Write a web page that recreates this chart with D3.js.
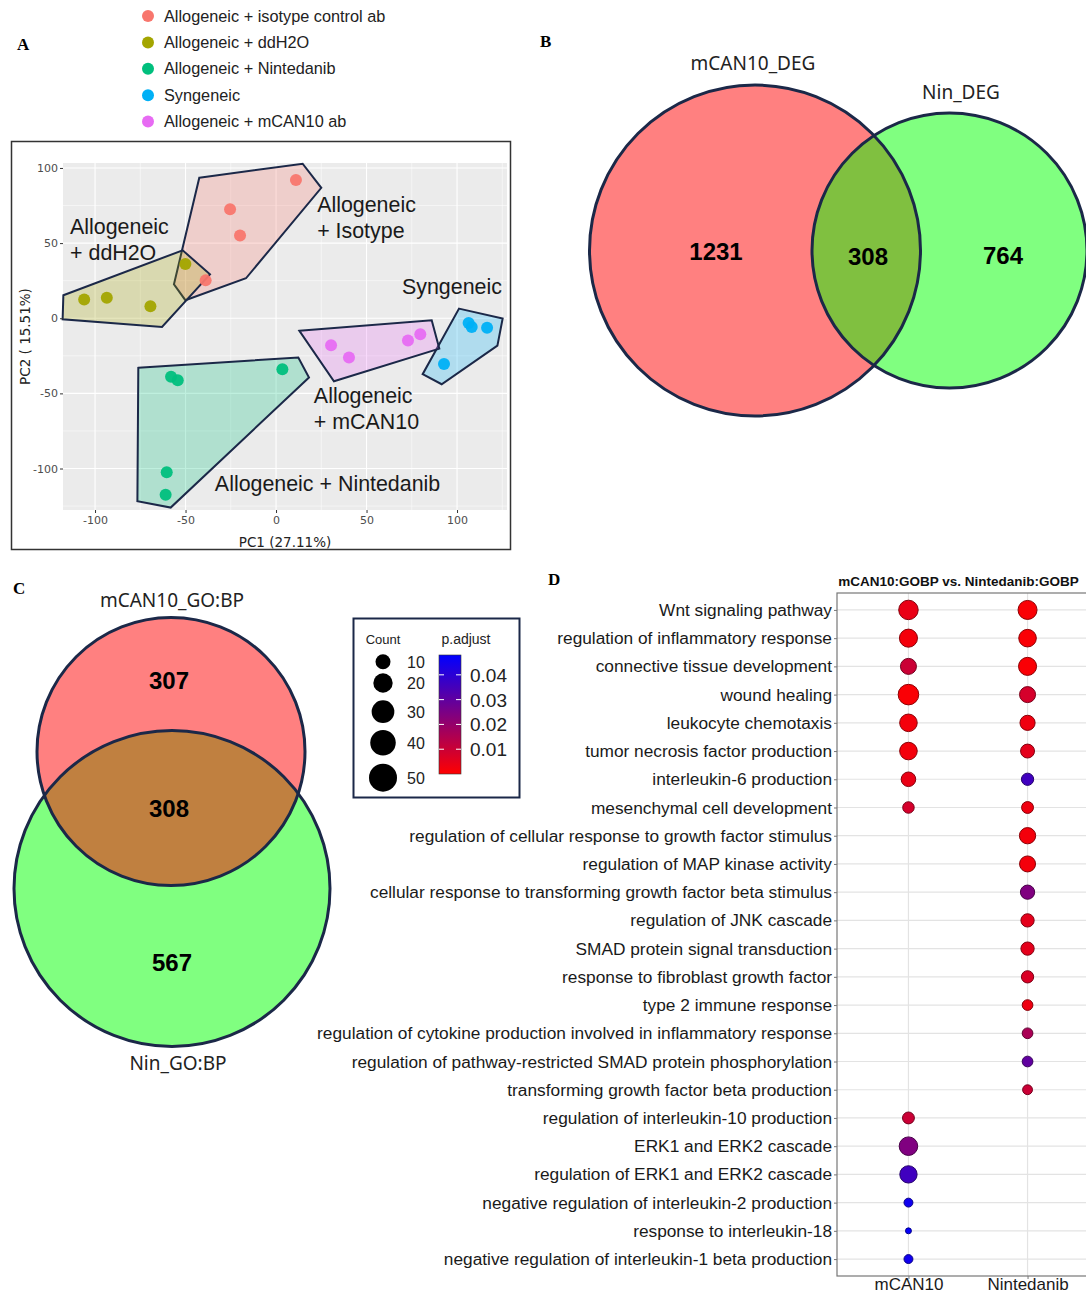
<!DOCTYPE html>
<html>
<head>
<meta charset="utf-8">
<script src="https://cdn.jsdelivr.net/npm/d3@7"></script>
<style>
  body { margin: 0; background: #fff; }
  svg { display: block; }
</style>
</head>
<body>
<svg width="1086" height="1294"></svg>
<script>
// ---------------- data ----------------
// panel A: PCA
const groupNames = [
  "Allogeneic + isotype control ab",
  "Allogeneic + ddH2O",
  "Allogeneic + Nintedanib",
  "Syngeneic",
  "Allogeneic + mCAN10 ab"
];
const pcaIsotype = [[11, 92], [-25.4, 72.6], [-19.9, 55], [-38.9, 25.2]];
const pcaWater = [[-106, 12.4], [-93.5, 13.7], [-69.4, 8], [-50.1, 36.1]];
const pcaNintedanib = [[-58, -39], [-54.3, -41.2], [3.5, -33.9], [-60.4, -102.5], [-61, -117.4]];
const pcaSyngeneic = [[106.4, -3.1], [108.1, -5.8], [116.6, -6.4], [92.8, -30.4]];
const pcaMcan = [[30.4, -17.9], [40.3, -26.1], [72.9, -14.8], [79.7, -10.6]];

// outlines drawn round each group (PC1, PC2)
const hullIsotype = [[-42.4, 93.5], [14.7, 102.8], [25, 86.8], [-16.6, 26.6], [-50.1, 12], [-56.4, 22.6]];
const hullWater = [[-117.5, 15.3], [-51.6, 45.2], [-36.5, 29.2], [-63, -5.8], [-117.9, -0.7]];
const hullNintedanib = [[-76.1, -33], [12.3, -26.1], [18.2, -39.4], [-58.2, -126], [-76.6, -121.8]];
const hullSyngeneic = [[101.1, 6.4], [125.2, -0.2], [122.3, -18.2], [91.5, -43.9], [81, -37.2]];
const hullMcan = [[12.9, -8.4], [86, -1.3], [90.2, -20.2], [32, -41.9]];

// group labels: anchor (PC1, PC2) and lines
const groupLabelLines = [
  ["Allogeneic", "+ Isotype"],
  ["Allogeneic", "+ ddH2O"],
  ["Allogeneic + Nintedanib"],
  ["Syngeneic"],
  ["Allogeneic", "+ mCAN10"]
];
const groupLabelAnchors = [[22.7, 70.5], [-113.8, 55.8], [-33.8, -114.9], [69.6, 16], [20.9, -56.5]];

const pcaTicks = [-100, -50, 0, 50, 100];
const pcaMinor = [-125, -75, -25, 25, 75, 125];

// panel B: DEG Venn
const degSets = ["mCAN10_DEG", "Nin_DEG"];
const degCounts = [1231, 308, 764]; // mCAN10 only, both, Nintedanib only

// panel C: GO:BP Venn
const goSets = ["mCAN10_GO:BP", "Nin_GO:BP"];
const goCounts = [307, 308, 567];

// panel D: dot plot
const goTerms = [
  "Wnt signaling pathway",
  "regulation of inflammatory response",
  "connective tissue development",
  "wound healing",
  "leukocyte chemotaxis",
  "tumor necrosis factor production",
  "interleukin-6 production",
  "mesenchymal cell development",
  "regulation of cellular response to growth factor stimulus",
  "regulation of MAP kinase activity",
  "cellular response to transforming growth factor beta stimulus",
  "regulation of JNK cascade",
  "SMAD protein signal transduction",
  "response to fibroblast growth factor",
  "type 2 immune response",
  "regulation of cytokine production involved in inflammatory response",
  "regulation of pathway-restricted SMAD protein phosphorylation",
  "transforming growth factor beta production",
  "regulation of interleukin-10 production",
  "ERK1 and ERK2 cascade",
  "regulation of ERK1 and ERK2 cascade",
  "negative regulation of interleukin-2 production",
  "response to interleukin-18",
  "negative regulation of interleukin-1 beta production"
];
const comparisons = ["mCAN10", "Nintedanib"];
const mcanCount = [43, 37, 29, 48, 35, 35, 24, 15, null, null, null, null, null, null, null, null, null, null, 16, 39, 34, 9, 4, 9];
const mcanPadj = [0.004, 0.002, 0.01, 0.001, 0.002, 0.002, 0.004, 0.008, null, null, null, null, null, null, null, null, null, null, 0.01, 0.024, 0.036, 0.045, 0.047, 0.045];
const ninCount = [41, 35, 37, 29, 26, 22, 17, 16, 30, 29, 23, 20, 20, 17, 13, 13, 13, 11, null, null, null, null, null, null];
const ninPadj = [0.001, 0.001, 0.001, 0.008, 0.003, 0.005, 0.036, 0.003, 0.002, 0.002, 0.024, 0.005, 0.005, 0.007, 0.003, 0.016, 0.03, 0.01, null, null, null, null, null, null];

const countLegend = [10, 20, 30, 40, 50];
const padjTicks = [0.01, 0.02, 0.03, 0.04];
const padjRange = [0, 0.048];

// ---------------- drawing ----------------
const groupColors = ["#F8766D", "#A3A500", "#00BF7D", "#00B0F6", "#E76BF3"];
const navy = "#1b2848";
const sans = "'Liberation Sans', Arial, sans-serif";

const svg = d3.select("svg");
svg.append("rect").attr("width", 1086).attr("height", 1294).attr("fill", "#fff");

// panel letters
[["A", 17, 50], ["B", 540, 47], ["C", 13, 594], ["D", 548, 585]].forEach(([t, x, y]) => {
  svg.append("text").attr("x", x).attr("y", y).text(t)
    .attr("font-family", "'Liberation Serif', 'Times New Roman', serif")
    .attr("font-weight", "bold").attr("font-size", 17);
});

// ===== panel A =====
const legendA = svg.append("g");
groupNames.forEach((g, i) => {
  const y = 16 + i * 26.4;
  legendA.append("circle").attr("cx", 148).attr("cy", y).attr("r", 6).attr("fill", groupColors[i]);
  legendA.append("text").attr("x", 164).attr("y", y + 5.5).text(g)
    .attr("font-family", sans).attr("font-size", 16.3).attr("fill", "#222");
});

svg.append("rect").attr("x", 11.5).attr("y", 141.5).attr("width", 499).attr("height", 408)
  .attr("fill", "none").attr("stroke", "#333").attr("stroke-width", 1.5);

const xA = d3.scaleLinear().domain([-117.7, 127.6]).range([63, 507]);
const yA = d3.scaleLinear().domain([-127.6, 103.3]).range([510, 163]);

const gA = svg.append("g");
gA.append("rect").attr("x", 63).attr("y", 163).attr("width", 444).attr("height", 347).attr("fill", "#ebebeb");

pcaMinor.filter(v => v > xA.domain()[0] && v < xA.domain()[1]).forEach(v => {
  gA.append("line").attr("x1", xA(v)).attr("x2", xA(v)).attr("y1", 163).attr("y2", 510)
    .attr("stroke", "#fff").attr("stroke-width", 0.5);
});
pcaMinor.filter(v => v > yA.domain()[0] && v < yA.domain()[1]).forEach(v => {
  gA.append("line").attr("x1", 63).attr("x2", 507).attr("y1", yA(v)).attr("y2", yA(v))
    .attr("stroke", "#fff").attr("stroke-width", 0.5);
});
pcaTicks.forEach(v => {
  gA.append("line").attr("x1", xA(v)).attr("x2", xA(v)).attr("y1", 163).attr("y2", 510)
    .attr("stroke", "#fff").attr("stroke-width", 1.1);
  gA.append("line").attr("x1", 63).attr("x2", 507).attr("y1", yA(v)).attr("y2", yA(v))
    .attr("stroke", "#fff").attr("stroke-width", 1.1);
});

const hullLine = d3.line().x(d => xA(d[0])).y(d => yA(d[1])).curve(d3.curveLinearClosed);
const hulls = [hullIsotype, hullWater, hullNintedanib, hullSyngeneic, hullMcan];
hulls.forEach((h, i) => {
  gA.append("path").attr("d", hullLine(h))
    .attr("fill", groupColors[i]).attr("fill-opacity", 0.25)
    .attr("stroke", navy).attr("stroke-width", 2).attr("stroke-linejoin", "miter");
});

const groupsPts = [pcaIsotype, pcaWater, pcaNintedanib, pcaSyngeneic, pcaMcan];
groupsPts.forEach((pts, i) => {
  gA.selectAll(null).data(pts).join("circle")
    .attr("cx", d => xA(d[0])).attr("cy", d => yA(d[1])).attr("r", 6)
    .attr("fill", groupColors[i]).attr("fill-opacity", 0.95);
});

groupLabelLines.forEach((lines, i) => {
  const t = gA.append("text").attr("x", xA(groupLabelAnchors[i][0])).attr("y", yA(groupLabelAnchors[i][1]))
    .attr("font-family", sans).attr("font-size", 21.4).attr("fill", "#1a1a1a");
  lines.forEach((l, j) => {
    t.append("tspan").attr("x", xA(groupLabelAnchors[i][0])).attr("dy", j === 0 ? 0 : 25.5).text(l);
  });
});

const axisFont = "'DejaVu Sans', Verdana, sans-serif";
const xAxisA = gA.append("g").attr("transform", "translate(0,510)")
  .call(d3.axisBottom(xA).tickValues(pcaTicks).tickFormat(d => String(d)).tickSize(3).tickPadding(3));
const yAxisA = gA.append("g").attr("transform", "translate(63,0)")
  .call(d3.axisLeft(yA).tickValues(pcaTicks).tickFormat(d => String(d)).tickSize(3).tickPadding(2));
[xAxisA, yAxisA].forEach(ax => {
  ax.select(".domain").remove();
  ax.selectAll("line").attr("stroke", "#333");
  ax.selectAll("text").attr("font-family", axisFont).attr("font-size", 11).attr("fill", "#4d4d4d");
});
gA.append("text").attr("x", 285).attr("y", 547).attr("text-anchor", "middle")
  .attr("font-family", axisFont).attr("font-size", 13.5).attr("fill", "#222").text("PC1 (27.11%)");
gA.append("text").attr("transform", "translate(30,336.5) rotate(-90)").attr("text-anchor", "middle")
  .attr("font-family", axisFont).attr("font-size", 13.5).attr("fill", "#222").text("PC2 ( 15.51%)");

// ===== Venn helper =====
const vennFont = "'Noto Sans', 'Open Sans', sans-serif";
function drawVenn(g, id, c1, c2, overlapColor, counts, countPos, sets, setPos) {
  g.append("circle").attr("cx", c1.x).attr("cy", c1.y).attr("r", c1.r).attr("fill", "#ff8080");
  g.append("circle").attr("cx", c2.x).attr("cy", c2.y).attr("r", c2.r).attr("fill", "#80ff80");
  const clip = g.append("clipPath").attr("id", id);
  clip.append("circle").attr("cx", c1.x).attr("cy", c1.y).attr("r", c1.r);
  g.append("circle").attr("cx", c2.x).attr("cy", c2.y).attr("r", c2.r)
    .attr("fill", overlapColor).attr("clip-path", `url(#${id})`);
  [c1, c2].forEach(c => {
    g.append("circle").attr("cx", c.x).attr("cy", c.y).attr("r", c.r)
      .attr("fill", "none").attr("stroke", navy).attr("stroke-width", 3);
  });
  counts.forEach((n, i) => {
    g.append("text").attr("x", countPos[i][0]).attr("y", countPos[i][1]).attr("text-anchor", "middle")
      .attr("font-family", sans).attr("font-weight", "bold").attr("font-size", 24).attr("fill", "#000").text(n);
  });
  sets.forEach((s, i) => {
    g.append("text").attr("x", setPos[i][0]).attr("y", setPos[i][1]).attr("text-anchor", "middle")
      .attr("font-family", vennFont).attr("font-size", 19).attr("fill", "#222").text(s);
  });
}

// ===== panel B =====
drawVenn(svg.append("g"), "clipB",
  { x: 755, y: 250.5, r: 165.5 }, { x: 949.5, y: 250.5, r: 137.5 }, "#80c040",
  degCounts, [[716, 260], [868, 265], [1003, 264]],
  degSets, [[753, 70], [961, 99]]);

// ===== panel C =====
drawVenn(svg.append("g"), "clipC",
  { x: 171, y: 751.5, r: 134 }, { x: 172, y: 888.5, r: 158 }, "#c08040",
  goCounts, [[169, 689], [169, 817], [172, 971]],
  goSets, [[172, 607], [178, 1070]]);

// ===== legend (Count / p.adjust) =====
const gL = svg.append("g");
gL.append("rect").attr("x", 353.5).attr("y", 618.5).attr("width", 166).attr("height", 179)
  .attr("fill", "#fff").attr("stroke", navy).attr("stroke-width", 2);
gL.append("text").attr("x", 383).attr("y", 644).attr("text-anchor", "middle")
  .attr("font-family", sans).attr("font-size", 13).attr("fill", "#222").text("Count");
gL.append("text").attr("x", 466).attr("y", 644).attr("text-anchor", "middle")
  .attr("font-family", sans).attr("font-size", 14).attr("fill", "#222").text("p.adjust");

const rLegend = d3.scaleLinear().domain([Math.sqrt(10), Math.sqrt(50)]).range([7.5, 14]);
const legendY = [661.7, 683, 711.7, 742.7, 777.7];
countLegend.forEach((c, i) => {
  gL.append("circle").attr("cx", 383).attr("cy", legendY[i]).attr("r", rLegend(Math.sqrt(c))).attr("fill", "#000");
  gL.append("text").attr("x", 407).attr("y", legendY[i] + 6).attr("font-family", sans)
    .attr("font-size", 16).attr("fill", "#222").text(c);
});

const colorP = d3.scaleLinear().domain(padjRange).range(["#ff0000", "#0000ff"]);
const barY = d3.scaleLinear().domain(padjRange).range([774, 655]);
const grad = svg.append("defs").append("linearGradient").attr("id", "padjGrad")
  .attr("x1", 0).attr("y1", 1).attr("x2", 0).attr("y2", 0);
d3.range(0, 1.0001, 0.1).forEach(t => {
  const v = padjRange[0] + t * (padjRange[1] - padjRange[0]);
  grad.append("stop").attr("offset", t).attr("stop-color", colorP(v));
});
gL.append("rect").attr("x", 439).attr("y", 655).attr("width", 22).attr("height", 119)
  .attr("fill", "url(#padjGrad)").attr("stroke", "#333").attr("stroke-width", 0.6);
padjTicks.forEach(v => {
  [[439, 444], [456, 461]].forEach(([a, b]) => {
    gL.append("line").attr("x1", a).attr("x2", b).attr("y1", barY(v)).attr("y2", barY(v))
      .attr("stroke", "#fff").attr("stroke-width", 1);
  });
  gL.append("text").attr("x", 470).attr("y", barY(v) + 7).attr("font-family", sans)
    .attr("font-size", 19).attr("fill", "#222").text(v.toFixed(2));
});

// ===== panel D =====
const gD = svg.append("g");
const yD = d3.scalePoint().domain(goTerms).range([593, 1276]).padding(0.6);
const xD = d3.scalePoint().domain(comparisons).range([837, 1099]).padding(0.6);
const rD = d3.scaleSqrt().domain([0, 50]).range([0, 10.5]);

goTerms.forEach(t => {
  gD.append("line").attr("x1", 837).attr("x2", 1099).attr("y1", yD(t)).attr("y2", yD(t))
    .attr("stroke", "#e3e3e3").attr("stroke-width", 1.2);
});
comparisons.forEach(c => {
  gD.append("line").attr("x1", xD(c)).attr("x2", xD(c)).attr("y1", 593).attr("y2", 1276)
    .attr("stroke", "#e3e3e3").attr("stroke-width", 1.2);
});
gD.append("rect").attr("x", 837).attr("y", 593).attr("width", 262).attr("height", 683)
  .attr("fill", "none").attr("stroke", "#777").attr("stroke-width", 1.2);

const dots = [];
goTerms.forEach((t, i) => {
  if (mcanCount[i] != null) dots.push({ term: t, cmp: "mCAN10", count: mcanCount[i], padj: mcanPadj[i] });
  if (ninCount[i] != null) dots.push({ term: t, cmp: "Nintedanib", count: ninCount[i], padj: ninPadj[i] });
});
gD.selectAll(null).data(dots).join("circle")
  .attr("cx", d => xD(d.cmp)).attr("cy", d => yD(d.term)).attr("r", d => rD(d.count))
  .attr("fill", d => colorP(d.padj))
  .attr("stroke", d => d3.color(colorP(d.padj)).darker(1.6))
  .attr("stroke-width", 1);

const yAxisD = gD.append("g").attr("transform", "translate(837,0)")
  .call(d3.axisLeft(yD).tickSize(3).tickPadding(2));
const xAxisD = gD.append("g").attr("transform", "translate(0,1276)")
  .call(d3.axisBottom(xD).tickSize(3).tickPadding(0));
[yAxisD, xAxisD].forEach(ax => {
  ax.select(".domain").remove();
  ax.selectAll("line").attr("stroke", "#777");
  ax.selectAll("text").attr("font-family", sans).attr("fill", "#1a1a1a");
});
yAxisD.selectAll("text").attr("font-size", 17.3);
// bottom labels sit right at the figure's lower edge
xAxisD.selectAll("text").attr("font-size", 17).attr("y", 14).attr("dy", null);

gD.append("text").attr("x", 958.5).attr("y", 586).attr("text-anchor", "middle")
  .attr("font-family", sans).attr("font-weight", "bold").attr("font-size", 13.5)
  .attr("fill", "#111").text("mCAN10:GOBP vs. Nintedanib:GOBP");
</script>
</body>
</html>
